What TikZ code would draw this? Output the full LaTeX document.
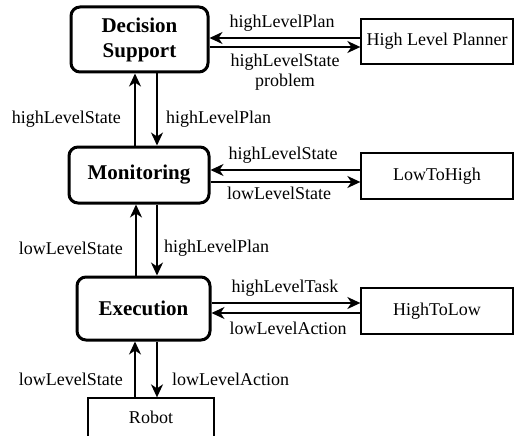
\documentclass[tikz,border=0pt]{standalone}
\usepackage{fontspec}
\setmainfont{Liberation Serif}
\usetikzlibrary{arrows.meta}
\begin{document}
\begin{tikzpicture}[x=1pt,y=-1pt,
  lbl/.style={inner sep=0pt,font=\fontsize{18}{20}\selectfont},
  comp/.style={draw,line width=3pt,rounded corners=9pt,align=center,
    font=\fontsize{21}{25}\selectfont\bfseries,inner sep=0pt},
  ext/.style={draw,line width=1.3pt,inner sep=0pt,
    font=\fontsize{18}{20}\selectfont},
  arr/.style={line width=1.6pt,-{Stealth[length=13pt,width=12pt,inset=4pt]}}]
\useasboundingbox (0,0) rectangle (514,436);
\clip (0,0) rectangle (514,436);

% control layers
\node[comp,minimum width=137pt,minimum height=65pt] (ds) at (139.5,39.5) {Decision\\Support};
\node[comp,minimum width=140pt,minimum height=56pt] (mon) at (139,175) {Monitoring};
\node[comp,minimum width=133pt,minimum height=63pt] (exe) at (143.5,308.5) {Execution};

% external components
\node[ext,minimum width=152pt,minimum height=45pt] (hlp) at (437,41.5) {High Level Planner};
\node[ext,minimum width=152pt,minimum height=46pt] (l2h) at (437,176) {LowToHigh};
\node[ext,minimum width=152pt,minimum height=46pt] (h2l) at (437,311) {HighToLow};
\node[ext,minimum width=126pt,minimum height=56pt,text depth=18pt] (rob) at (151,426) {Robot};

% horizontal exchanges
\draw[arr] (hlp.west |- 0,38) -- (ds.east |- 0,38);
\draw[arr] (ds.east |- 0,47) -- (hlp.west |- 0,47);
\draw[arr] (l2h.west |- 0,170) -- (mon.east |- 0,170);
\draw[arr] (mon.east |- 0,182) -- (l2h.west |- 0,182);
\draw[arr] (exe.east |- 0,303) -- (h2l.west |- 0,303);
\draw[arr] (h2l.west |- 0,313) -- (exe.east |- 0,313);

% vertical exchanges
\draw[arr] (mon.north -| 135,0) -- (ds.south -| 135,0);
\draw[arr] (ds.south -| 157,0) -- (mon.north -| 157,0);
\draw[arr] (exe.north -| 136,0) -- (mon.south -| 136,0);
\draw[arr] (mon.south -| 157,0) -- (exe.north -| 157,0);
\draw[arr] (rob.north -| 135,0) -- (exe.south -| 135,0);
\draw[arr] (exe.south -| 157,0) -- (rob.north -| 157,0);

% labels
\node[lbl] (t1) at (282,23) {highLevelPlan};
\node[lbl,align=center] (t2) at (285,72) {highLevelState\\problem};
\node[lbl,anchor=east] (t3) at (121,119) {highLevelState};
\node[lbl,anchor=west] (t4) at (166,119) {highLevelPlan};
\node[lbl] (t5) at (283,155) {highLevelState};
\node[lbl] (t6) at (279,193) {lowLevelState};
\node[lbl,anchor=east] (t7) at (123,248) {lowLevelState};
\node[lbl,anchor=west] (t8) at (164,248) {highLevelPlan};
\node[lbl] (t9) at (285,288) {highLevelTask};
\node[lbl] (t10) at (288,328) {lowLevelAction};
\node[lbl,anchor=east] (t11) at (123,379) {lowLevelState};
\node[lbl,anchor=west] (t12) at (172,379) {lowLevelAction};
\end{tikzpicture}
\end{document}
